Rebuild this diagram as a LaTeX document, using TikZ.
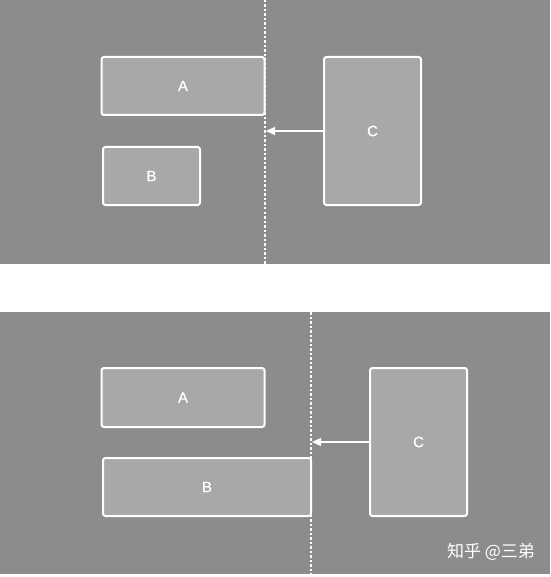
\documentclass[tikz,border=0pt]{standalone}
\usepackage{fontspec}
\setmainfont{Liberation Sans}
\newfontfamily\lab{Liberation Sans}[FakeBold=0.8]
\newfontfamily\cjk{Noto Sans CJK SC}
\usetikzlibrary{arrows.meta}
\definecolor{bggray}{HTML}{8C8C8C}
\definecolor{boxgray}{HTML}{A8A8A8}
\begin{document}
\begin{tikzpicture}[x=1pt,y=-1pt,
  box/.style={draw=white,line width=2pt,fill=boxgray,rounded corners=2.5pt,inner sep=0pt,
    text=white,font=\lab\fontsize{15}{17}\selectfont},
  guide/.style={white,line width=1.3pt,dash pattern=on 2.5pt off 2pt},
  conn/.style={white,line width=1.3pt,-{Triangle[width=8pt,length=9pt]}}]
\useasboundingbox (0,0) rectangle (550,577);
\fill[white] (0,0) rectangle (550,577);
% panels
\fill[bggray] (0,0) rectangle (550,264);
\fill[bggray] (0,312) rectangle (550,574);
% top panel
\node[box,minimum width=163pt,minimum height=58pt] (A1) at (183,86) {A};
\node[box,minimum width=97pt,minimum height=58pt] (B1) at (151.5,176) {B};
\node[box,minimum width=97pt,minimum height=148pt] (C1) at (372.5,131) {C};
\coordinate (L1t) at (265,0);
\coordinate (L1b) at (265,264);
\coordinate (T1) at (266,131);
\draw[guide] (L1t) -- (L1b);
\draw[conn] (C1.west |- T1) -- (T1);
% bottom panel
\node[box,minimum width=163pt,minimum height=59pt] (A2) at (183,397.5) {A};
\node[box,minimum width=208pt,minimum height=58pt] (B2) at (207,487) {B};
\node[box,minimum width=97pt,minimum height=148pt] (C2) at (418.5,442) {C};
\coordinate (L2t) at (311,312);
\coordinate (L2b) at (311,574);
\coordinate (T2) at (312,442);
\draw[guide] (L2t) -- (L2b);
\draw[conn] (C2.west |- T2) -- (T2);
% watermark
\node[text=white,font=\cjk\fontsize{17}{19}\selectfont,anchor=center,inner sep=0pt] (wm) at (491,552) {知乎 @三弟};
\end{tikzpicture}
\end{document}
